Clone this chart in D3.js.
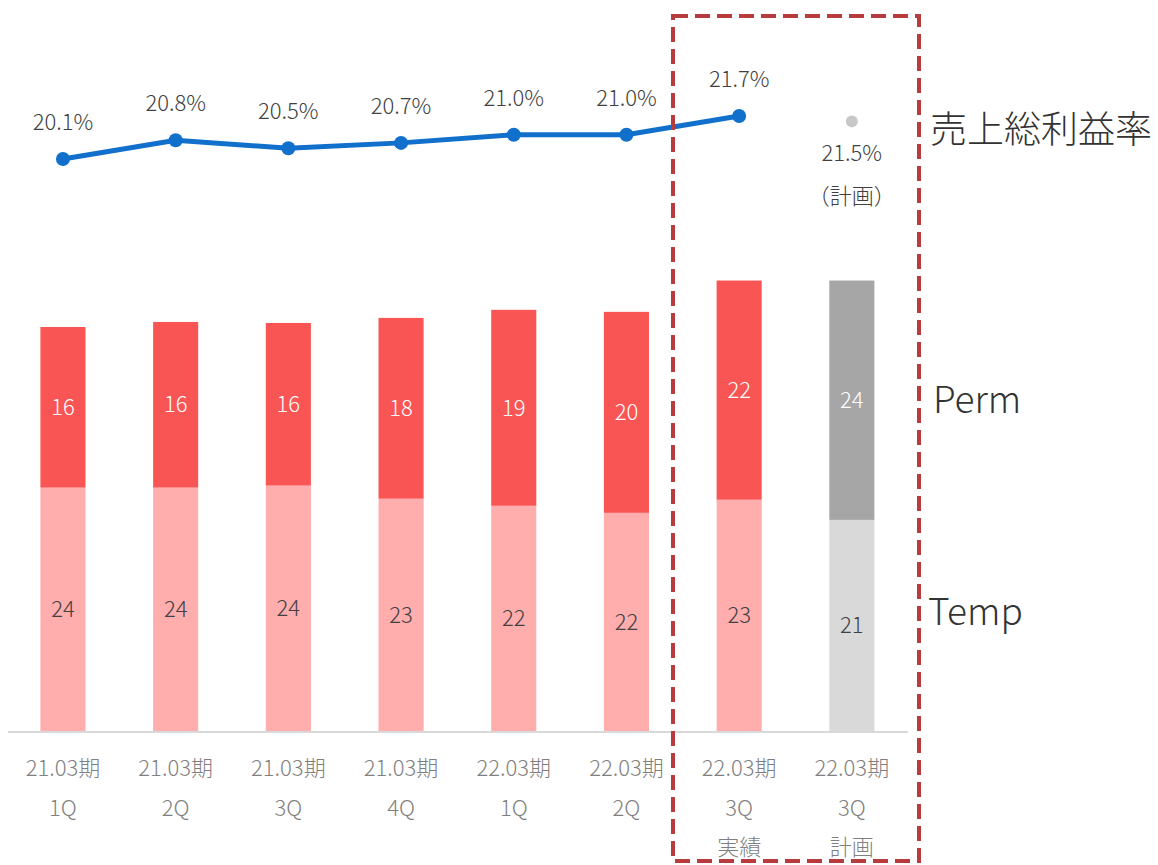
<!DOCTYPE html>
<html>
<head>
<meta charset="utf-8">
<script src="https://cdn.jsdelivr.net/npm/d3@7"></script>
<style>
  body { margin: 0; background: #fff; }
  svg { display: block; font-family: "Noto Sans CJK JP", "Noto Sans", sans-serif; font-weight: 300; }
</style>
</head>
<body>
<svg id="chart" width="1158" height="865"></svg>
<script>
// data
const periods = ['21.03期', '21.03期', '21.03期', '21.03期', '22.03期', '22.03期', '22.03期', '22.03期'];
const quarters = ['1Q', '2Q', '3Q', '4Q', '1Q', '2Q', '3Q', '3Q'];
const notes = ['', '', '', '', '', '', '実績', '計画'];
const temp = [24.1, 24.1, 24.3, 23.0, 22.3, 21.6, 22.9, 20.9];
const perm = [15.9, 16.4, 16.1, 17.9, 19.4, 19.9, 21.7, 23.7];
const rate = [20.1, 20.8, 20.5, 20.7, 21.0, 21.0, 21.7];
const planRate = 21.5;

const keys = d3.range(periods.length);
const isPlan = i => i === keys.length - 1;

const svg = d3.select('#chart');

let x = d3.scaleBand().domain(keys).range([6.6, 908.2])
    .paddingInner(0.6).paddingOuter(0.3);
let y = d3.scaleLinear().domain([0, 45]).range([731, 276.5]);
let r = d3.scaleLinear().domain([20.1, 21.7]).range([159, 116]);
let cx = i => x(i) + x.bandwidth() / 2;

// bars
let rows = keys.map(i => ({ i: i, temp: temp[i], perm: perm[i] }));
let stack = d3.stack().keys(['temp', 'perm'])(rows);
let colors = {
    temp: ['#FFADAD', '#D9D9D9'],
    perm: ['#F95555', '#A6A6A6']
};
let textColors = { temp: '#404040', perm: '#ffffff' };

stack.forEach(function(layer) {
    let g = svg.append('g');
    g.selectAll('rect').data(layer).enter().append('rect')
        .attr('x', d => x(d.data.i))
        .attr('width', x.bandwidth())
        .attr('y', d => y(d[1]))
        .attr('height', d => y(d[0]) - y(d[1]))
        .attr('fill', d => colors[layer.key][isPlan(d.data.i) ? 1 : 0]);
    g.selectAll('text').data(layer).enter().append('text')
        .attr('x', d => cx(d.data.i))
        .attr('y', d => (y(d[0]) + y(d[1])) / 2)
        .attr('dy', '0.35em')
        .attr('text-anchor', 'middle')
        .attr('font-size', 22)
        .attr('fill', textColors[layer.key])
        .text(d => Math.round(d[1] - d[0]));
});

// axis baseline
svg.append('line')
    .attr('x1', 8).attr('x2', 908)
    .attr('y1', 732).attr('y2', 732)
    .attr('stroke', '#D9D9D9').attr('stroke-width', 2);

// category labels
let cat = svg.append('g').attr('fill', '#7F7F7F').attr('font-size', 22).attr('text-anchor', 'middle');
keys.forEach(function(i) {
    let t = cat.append('text').attr('x', cx(i));
    [periods[i], quarters[i], notes[i]].forEach(function(s, k) {
        if (s) t.append('tspan').attr('x', cx(i)).attr('y', 776 + k * 39.5).text(s);
    });
});

// gross margin line
let line = d3.line().x((d, i) => cx(i)).y(d => r(d));
svg.append('path').datum(rate)
    .attr('d', line)
    .attr('fill', 'none')
    .attr('stroke', '#1070CC')
    .attr('stroke-width', 5);
svg.selectAll('circle.rate').data(rate).enter().append('circle')
    .attr('class', 'rate')
    .attr('cx', (d, i) => cx(i)).attr('cy', d => r(d)).attr('r', 7)
    .attr('fill', '#1070CC');
svg.selectAll('text.rate').data(rate).enter().append('text')
    .attr('class', 'rate')
    .attr('x', (d, i) => cx(i)).attr('y', d => r(d) - 29)
    .attr('text-anchor', 'middle')
    .attr('font-size', 22).attr('fill', '#404040')
    .text(d => d.toFixed(1) + '%');

// plan point
let pi = keys.length - 1;
svg.append('circle')
    .attr('cx', cx(pi)).attr('cy', r(planRate)).attr('r', 6)
    .attr('fill', '#C8C8C8');
svg.append('text')
    .attr('x', cx(pi)).attr('y', r(planRate) + 40)
    .attr('text-anchor', 'middle').attr('font-size', 22).attr('fill', '#404040')
    .text(planRate.toFixed(1) + '%');
svg.append('text')
    .attr('x', cx(pi)).attr('y', r(planRate) + 83)
    .attr('text-anchor', 'middle').attr('font-size', 22).attr('fill', '#404040')
    .text('（計画）');

// highlight box
svg.append('rect')
    .attr('x', 673).attr('y', 16)
    .attr('width', 246).attr('height', 845)
    .attr('fill', 'none')
    .attr('stroke', '#B83B3E').attr('stroke-width', 4)
    .attr('stroke-dasharray', '15 7');

// series labels on the right
let side = svg.append('g').attr('fill', '#333333').attr('font-size', 37);
side.append('text').attr('x', 930).attr('y', 143).text('売上総利益率');
side.append('text').attr('x', 933).attr('y', 413).text('Perm');
side.append('text').attr('x', 928).attr('y', 625).text('Temp');
</script>
</body>
</html>
